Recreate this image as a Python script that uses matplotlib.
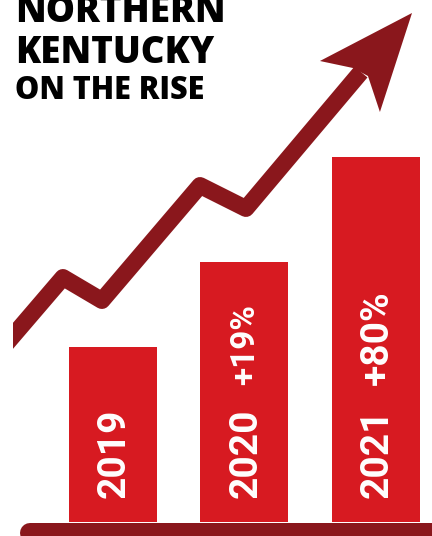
import numpy as np
import matplotlib
matplotlib.use('Agg')
import matplotlib.pyplot as plt
from matplotlib.patches import Polygon

# bar data (heights in chart units)
years = ['2019', '2020', '2021']
bar_heights = [175, 260, 365]
growth = ['', '+19%', '+80%']

# rising arrow path (x in bar-slot units, y in bar units)
line_x = [-0.859, -0.380, -0.084, 0.662, 1.011, 1.886]
line_y = [171, 244.5, 221.5, 336.5, 313.5, 450]
head_x = [2.274, 1.574, 1.825, 1.939, 2.030]
head_y = [509, 461, 454, 446, 410]

title_lines = ['NORTHERN', 'KENTUCKY', 'ON THE RISE']

RED = '#D71A21'
DARK = '#8A171C'

fig = plt.figure(figsize=(4.32, 5.36), dpi=100)
ax = fig.add_axes([13 / 432, 0, 1 - 13 / 432, 1])
ax.set_xlim(-0.760, 2.426)
ax.set_ylim(-14, 522)
ax.axis('off')

x = np.arange(len(years))
ax.bar(x, bar_heights, width=0.669, color=RED, zorder=2)

# baseline with rounded left end
ax.plot([-0.631, 2.7], [-11, -11], color=DARK, lw=14.4,
        solid_capstyle='round', zorder=3)

# the zig-zag arrow
ax.plot(line_x, line_y, color=DARK, lw=12.2, solid_joinstyle='round',
        solid_capstyle='butt', zorder=4)
ax.add_patch(Polygon(list(zip(head_x, head_y)), closed=True,
                     facecolor=DARK, edgecolor='none', zorder=5))

# labels inside bars, reading bottom to top
pct_sizes = [0, 24, 28]
for i, (yr, g) in enumerate(zip(years, growth)):
    ax.text(x[i] + 0.092, 24, yr, rotation=90, rotation_mode='anchor',
            ha='left', va='baseline', color='white', fontsize=28,
            fontfamily='Roboto', fontweight='bold', zorder=6)
    if g:
        off = 0.092 if pct_sizes[i] >= 28 else 0.072
        ax.text(x[i] + off, 137, g, rotation=90, rotation_mode='anchor',
                ha='left', va='baseline', color='white', fontsize=pct_sizes[i],
                fontfamily='Roboto', fontweight='bold', zorder=6)

# title
tkw = dict(fontfamily='Open Sans', fontweight=800, color='black',
           ha='left', va='baseline')
fig.text(15 / 432, 1 - 22 / 536, title_lines[0], fontsize=26.5, **tkw)
fig.text(15 / 432, 1 - 63 / 536, title_lines[1], fontsize=26.5, **tkw)
fig.text(15 / 432, 1 - 99 / 536, title_lines[2], fontsize=22, **tkw)

fig.savefig('out.png', dpi=100)
